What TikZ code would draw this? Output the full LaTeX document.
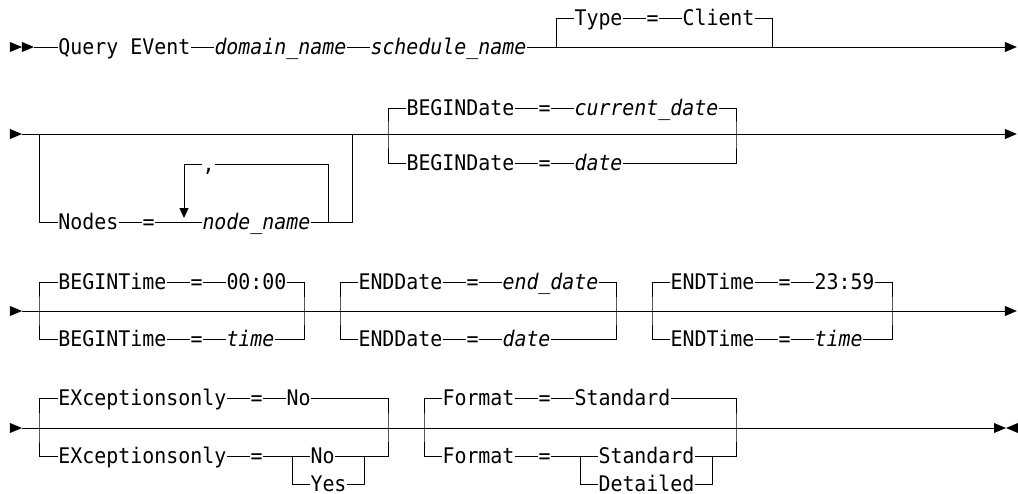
\documentclass[tikz,border=0pt]{standalone}
\usepackage{fontspec}
\setmonofont[FakeStretch=0.927]{DejaVu Sans Mono}
\usetikzlibrary{arrows.meta}

\begin{document}
\begin{tikzpicture}[x=12pt,y=-1pt,line width=1pt,
  kw/.style={anchor=west,inner sep=0pt,text height=15.7pt,text depth=0pt,
    font=\fontsize{21.5}{24}\selectfont\ttfamily},
  var/.style={kw,font=\fontsize{21.5}{24}\selectfont\ttfamily\itshape},
  rowend/.style={-{Triangle[length=12pt,width=10pt]}},
  looptip/.style={-{Triangle[length=10pt,width=9pt]}}]
\useasboundingbox (-0.8333,0) rectangle (84,493);
\fill (0,42) -- (1,47) -- (0,52) -- cycle;
\fill (1,42) -- (2,47) -- (1,52) -- cycle;
\coordinate (r1s) at (2,47);
\coordinate (r1e) at (83.9,47);
\coordinate (j1) at (45.5,47);
\coordinate (j2) at (63.5,47);
\node[kw] (qe) at (4,47) {Query EVent};
\node[var] (dom) at (17,47) {domain\_name};
\node[var] (sch) at (30,47) {schedule\_name};
\node[kw] (typ) at (47,18) {Type};
\node[kw] (eqt) at (53,18) {=};
\node[kw] (cli) at (56,18) {Client};
\draw (r1s) -- (qe) -- (dom) -- (sch);
\draw[rowend] (sch) -- (r1e);
\draw (j1) |- (typ) -- (eqt) -- (cli) -| (j2);

\fill (0,129) -- (1,134) -- (0,139) -- cycle;
\coordinate (r2s) at (1,134);
\coordinate (r2e) at (83.9,134);
\coordinate (g2a) at (2.5,134);
\coordinate (g2b) at (28.5,134);
\coordinate (g2c) at (31.5,134);
\coordinate (g2d) at (60.5,134);
\coordinate (lpr) at (26.5,164);
\coordinate (lpl) at (14.5,164);
\coordinate (lpt) at (14.5,218);
\node[kw] (nod) at (4,222) {Nodes};
\node[kw] (eqn) at (11,222) {=};
\node[var] (nn) at (16,222) {node\_name};
\node[kw] (cm) at (16,164) {,};
\node[kw] (bd1) at (33,108) {BEGINDate};
\node[kw] (eqb1) at (44,108) {=};
\node[var] (cd) at (47,108) {current\_date};
\node[kw] (bd2) at (33,163) {BEGINDate};
\node[kw] (eqb2) at (44,163) {=};
\node[var] (dt) at (47,163) {date};
\draw[rowend] (r2s) -- (r2e);
\draw (g2a) |- (nod) -- (eqn) -- (nn) -| (g2b);
\draw (nn) -| (lpr) -- (cm);
\draw[looptip] (cm) -- (lpl) -- (lpt);
\draw (bd1) -| (g2c) |- (bd2) -- (eqb2) -- (dt) -| (g2d) |- (cd) -- (eqb1) -- (bd1);

\fill (0,306) -- (1,311) -- (0,316) -- cycle;
\coordinate (r3s) at (1,311);
\coordinate (r3e) at (83.9,311);
\coordinate (g3a) at (2.5,311);
\coordinate (g3b) at (24.5,311);
\coordinate (g3c) at (27.5,311);
\coordinate (g3d) at (50.5,311);
\coordinate (g3e) at (53.5,311);
\coordinate (g3f) at (73.5,311);
\node[kw] (bt1) at (4,282) {BEGINTime};
\node[kw] (eqbt1) at (15,282) {=};
\node[kw] (t00) at (18,282) {00:00};
\node[kw] (bt2) at (4,339) {BEGINTime};
\node[kw] (eqbt2) at (15,339) {=};
\node[var] (tm1) at (18,339) {time};
\node[kw] (ed1) at (29,282) {ENDDate};
\node[kw] (eqed1) at (38,282) {=};
\node[var] (edt) at (41,282) {end\_date};
\node[kw] (ed2) at (29,339) {ENDDate};
\node[kw] (eqed2) at (38,339) {=};
\node[var] (dt3) at (41,339) {date};
\node[kw] (et1) at (55,282) {ENDTime};
\node[kw] (eqet1) at (64,282) {=};
\node[kw] (t59) at (67,282) {23:59};
\node[kw] (et2) at (55,339) {ENDTime};
\node[kw] (eqet2) at (64,339) {=};
\node[var] (tm2) at (67,339) {time};
\draw[rowend] (r3s) -- (r3e);
\draw (bt1) -| (g3a) |- (bt2) -- (eqbt2) -- (tm1) -| (g3b) |- (t00) -- (eqbt1) -- (bt1);
\draw (ed1) -| (g3c) |- (ed2) -- (eqed2) -- (dt3) -| (g3d) |- (edt) -- (eqed1) -- (ed1);
\draw (et1) -| (g3e) |- (et2) -- (eqet2) -- (tm2) -| (g3f) |- (t59) -- (eqet1) -- (et1);

\fill (0,423) -- (1,428) -- (0,433) -- cycle;
\fill (82,423) -- (83,428) -- (82,433) -- cycle;
\fill (84,423) -- (83,428) -- (84,433) -- cycle;
\coordinate (r4s) at (1,428);
\coordinate (r4e) at (82,428);
\coordinate (g4a) at (2.5,428);
\coordinate (g4b) at (31.5,428);
\coordinate (g4c) at (34.5,428);
\coordinate (g4d) at (60.5,428);
\coordinate (s4a) at (23.5,456);
\coordinate (s4b) at (29.5,456);
\coordinate (s4c) at (47.5,456);
\coordinate (s4d) at (58.5,456);
\node[kw] (ex1) at (4,398) {EXceptionsonly};
\node[kw] (eqx1) at (20,398) {=};
\node[kw] (no1) at (23,398) {No};
\node[kw] (ex2) at (4,456) {EXceptionsonly};
\node[kw] (eqx2) at (20,456) {=};
\node[kw] (no2) at (25,456) {No};
\node[kw] (yes) at (25,484) {Yes};
\node[kw] (fm1) at (36,398) {Format};
\node[kw] (eqf1) at (44,398) {=};
\node[kw] (sd1) at (47,398) {Standard};
\node[kw] (fm2) at (36,456) {Format};
\node[kw] (eqf2) at (44,456) {=};
\node[kw] (sd2) at (49,456) {Standard};
\node[kw] (dl) at (49,484) {Detailed};
\draw (r4s) -- (r4e);
\draw (no1) -- (eqx1) -- (ex1) -| (g4a) |- (ex2) -- (eqx2) -- (no2) -- (s4b);
\draw (no1) -| (g4b) |- (s4b) |- (yes);
\draw (s4a) |- (yes);
\draw (sd1) -- (eqf1) -- (fm1) -| (g4c) |- (fm2) -- (eqf2) -- (sd2) -- (s4d);
\draw (sd1) -| (g4d) |- (s4d) |- (dl);
\draw (s4c) |- (dl);
\end{tikzpicture}
\end{document}
